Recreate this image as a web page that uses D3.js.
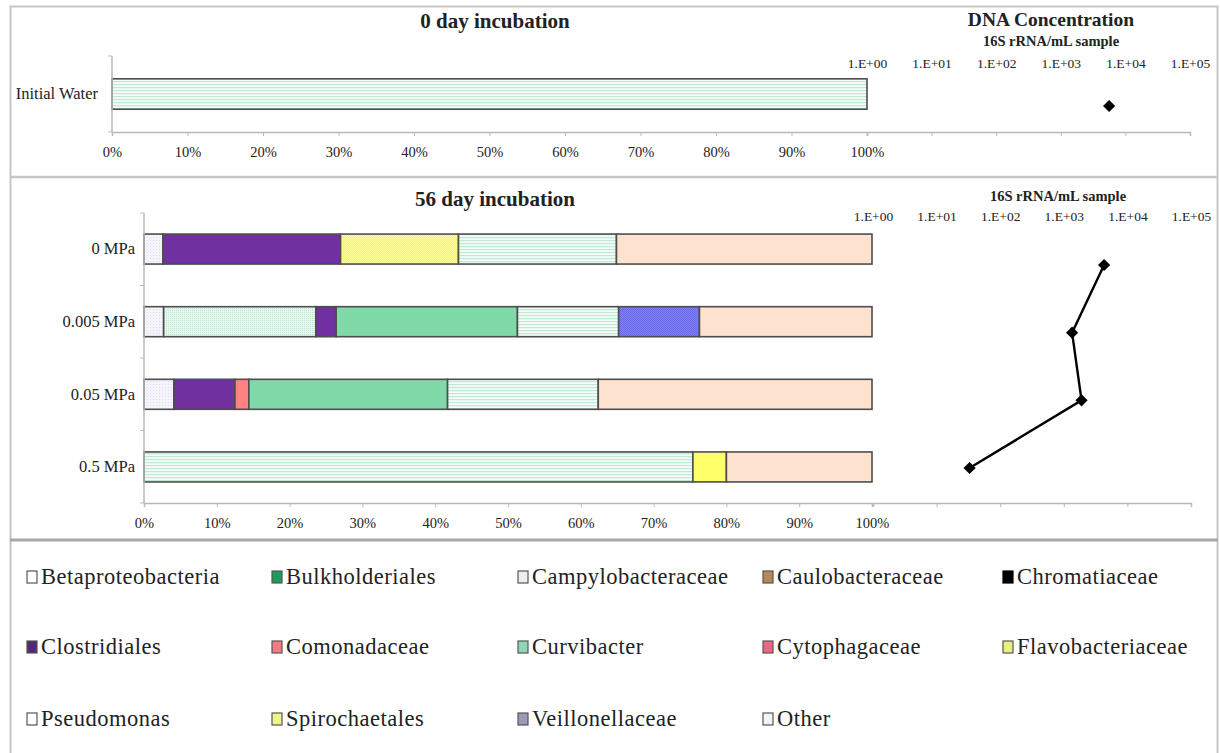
<!DOCTYPE html>
<html><head><meta charset="utf-8">
<script src="https://cdn.jsdelivr.net/npm/d3@7"></script>
<style>
body{margin:0;background:#fff}
text{font-family:"Liberation Serif","Times New Roman",serif;fill:#222}
</style>
</head><body>
<svg id="c" width="1220" height="753"></svg>
<script>
// ---------- DATA ----------
const taxa = ["Betaproteobacteria","Bulkholderiales","Campylobacteraceae","Caulobacteraceae","Chromatiaceae",
  "Clostridiales","Comonadaceae","Curvibacter","Cytophagaceae","Flavobacteriaceae",
  "Pseudomonas","Spirochaetales","Veillonellaceae","Other"];
const day0Samples = ["Initial Water"];
const day0Values = [
  [0,0,0,0,0,0,0,0,0,0,100,0,0,0]
];
const day56Samples = ["0 MPa","0.005 MPa","0.05 MPa","0.5 MPa"];
const day56Values = [
  [2.6,0,0,0,0,24.4,0,0,0,16.2,21.7,0,0,35.1],
  [2.7,0,20.9,0,0,2.8,0,24.9,0,0,13.9,0,11.1,23.7],
  [4.1,0,0,0,0,8.4,1.9,27.3,0,0,20.7,0,0,37.6],
  [0,0,0,0,0,0,0,0,0,0,75.4,4.6,0,20.0]
];
const day0Dna = [5600];
const day56Dna = [4300, 1350, 1900, 33];
const percentTicks = [0,10,20,30,40,50,60,70,80,90,100];
const logTicks = [1,10,100,1000,10000,100000];
const logTickLabels = ["1.E+00","1.E+01","1.E+02","1.E+03","1.E+04","1.E+05"];

// ---------- STYLES ----------
const fills = {
  "Betaproteobacteria":"url(#pBeta)",
  "Bulkholderiales":"#1e9a5c",
  "Campylobacteraceae":"url(#pCampy)",
  "Caulobacteraceae":"#b8875a",
  "Chromatiaceae":"#000000",
  "Clostridiales":"#7030a0",
  "Comonadaceae":"#ff8282",
  "Curvibacter":"#80d9a9",
  "Cytophagaceae":"#f06485",
  "Flavobacteriaceae":"url(#pFlavo)",
  "Pseudomonas":"url(#pPseudo)",
  "Spirochaetales":"#ffff6a",
  "Veillonellaceae":"url(#pVeil)",
  "Other":"#fde3cf"
};
const legendFills = Object.assign({}, fills, {
  "Betaproteobacteria":"#ffffff","Campylobacteraceae":"#eeeeee","Pseudomonas":"#ffffff",
  "Other":"#f4f4f4","Clostridiales":"#4e2a74","Flavobacteriaceae":"#e8f27a","Spirochaetales":"#eef58a",
  "Curvibacter":"#8fd8b4","Comonadaceae":"#f27c84","Veillonellaceae":"#9a9ab8"
});

const svg = d3.select("#c");
const defs = svg.append("defs");
function pat(id, bg, draw, w, h){
  const p = defs.append("pattern").attr("id",id).attr("patternUnits","userSpaceOnUse")
    .attr("width",w).attr("height",h);
  p.append("rect").attr("width",w).attr("height",h).attr("fill",bg);
  draw(p);
}
pat("pBeta","#f5f4fb",p=>{p.append("rect").attr("x",0).attr("y",0).attr("width",1).attr("height",1).attr("fill","#dddbef");},3,3);
pat("pCampy","#e5f7ee",p=>{p.append("rect").attr("x",0).attr("y",0).attr("width",1).attr("height",1).attr("fill","#bce7d1");},2,2);
pat("pFlavo","#ffff2a",p=>{p.append("rect").attr("x",0).attr("y",0).attr("width",1).attr("height",1).attr("fill","#ffff9a");
  p.append("rect").attr("x",1).attr("y",1).attr("width",1).attr("height",1).attr("fill","#ffff9a");},2,2);
pat("pPseudo","#f6fcf9",p=>{p.append("rect").attr("x",0).attr("y",0).attr("width",4).attr("height",1.2).attr("fill","#bfe9d3");},4,3);
pat("pVeil","#7f7ffc",p=>{p.append("rect").attr("x",0).attr("y",0).attr("width",1).attr("height",1).attr("fill","#6a6ae6");
  p.append("rect").attr("x",1).attr("y",1).attr("width",1).attr("height",1).attr("fill","#6a6ae6");},2,2);

svg.append("rect").attr("width",1220).attr("height",753).attr("fill","#fff");

// panel frames
const frame = svg.append("g").attr("fill","none");
frame.append("rect").attr("x",10.5).attr("y",6.5).attr("width",1207).attr("height",760)
  .attr("stroke","#c6c6c6").attr("stroke-width",2);
frame.append("line").attr("x1",10).attr("x2",1218).attr("y1",177).attr("y2",177)
  .attr("stroke","#c6c6c6").attr("stroke-width",2.5);
frame.append("line").attr("x1",10).attr("x2",1218).attr("y1",540).attr("y2",540)
  .attr("stroke","#a8a8a8").attr("stroke-width",3);

const axisGrey = "#b9b9b9";

function stackRows(values){
  return values.map(row=>{
    let acc=0;
    return row.map((v,i)=>{const s={key:taxa[i],x0:acc,x1:acc+v,v}; acc+=v; return s;}).filter(d=>d.v>0);
  });
}

function panel(cfg){
  const g = svg.append("g");
  const x = d3.scaleLinear().domain([0,100]).range([cfg.x0,cfg.x1]);
  const y = d3.scaleBand().domain(cfg.samples).range([cfg.top,cfg.bottom])
    .paddingInner(cfg.pi).paddingOuter(cfg.po);
  const lx = d3.scaleLog().domain([1,100000]).range([cfg.lx0,cfg.lx1]);
  const ly = d3.scalePoint().domain(cfg.samples).range(cfg.lyRange);

  // title
  g.append("text").attr("x",cfg.titleX).attr("y",cfg.titleY).attr("text-anchor","middle")
    .attr("font-size",21).attr("font-weight","bold").text(cfg.title);

  // bars
  const rows = stackRows(cfg.values);
  rows.forEach((segs,ri)=>{
    g.append("g").selectAll("rect").data(segs).join("rect")
      .attr("x",d=>x(d.x0)).attr("y",y(cfg.samples[ri]))
      .attr("width",d=>x(d.x1)-x(d.x0)).attr("height",y.bandwidth())
      .attr("fill",d=>fills[d.key]).attr("stroke","#4d4d4d").attr("stroke-width",1.6);
  });

  // percent axis
  const xa = g.append("g").attr("transform",`translate(0,${cfg.bottom})`)
    .call(d3.axisBottom(x).tickValues(percentTicks).tickFormat(d=>d+"%").tickSize(4).tickPadding(11));
  xa.select(".domain").attr("stroke",axisGrey).attr("stroke-width",1.5);
  xa.selectAll(".tick line").attr("stroke",axisGrey);
  xa.selectAll("text").attr("font-size",14.5).attr("font-family","Liberation Serif").attr("fill","#222");

  // category axis
  const ya = g.append("g").attr("transform",`translate(${cfg.x0},0)`)
    .call(d3.axisLeft(y).tickSize(0).tickPadding(cfg.catPad));
  ya.select(".domain").attr("stroke",axisGrey).attr("stroke-width",1.5)
    .attr("d",`M0,${cfg.top}V${cfg.bottom}`);
  ya.selectAll("text").attr("font-size",16.5).attr("font-family","Liberation Serif").attr("fill","#222");
  const bounds = d3.range(cfg.samples.length+1).map(i=>cfg.top + i*(cfg.bottom-cfg.top)/cfg.samples.length);
  ya.append("g").selectAll("line").data(bounds).join("line")
    .attr("x1",-4).attr("x2",0).attr("y1",d=>d).attr("y2",d=>d).attr("stroke",axisGrey);

  // log axis (bottom ticks)
  const la = g.append("g").attr("transform",`translate(0,${cfg.bottom})`)
    .call(d3.axisBottom(lx).tickValues(logTicks).tickFormat("").tickSize(4));
  la.select(".domain").attr("stroke",axisGrey).attr("stroke-width",1.5);
  la.selectAll(".tick line").attr("stroke",axisGrey);

  // log axis (top labels)
  const lt = g.append("g").attr("transform",`translate(0,${cfg.logLabelY})`)
    .call(d3.axisTop(lx).tickValues(logTicks).tickFormat((d,i)=>logTickLabels[i]).tickSize(0).tickPadding(0));
  lt.select(".domain").remove();
  lt.selectAll("text").attr("font-size",13.5).attr("font-family","Liberation Serif").attr("fill","#222");

  // subtitle
  if(cfg.bigTitle){
    g.append("text").attr("x",cfg.subX).attr("y",cfg.bigTitleY).attr("text-anchor","middle")
      .attr("font-size",19.5).attr("font-weight","bold").text(cfg.bigTitle);
  }
  g.append("text").attr("x",cfg.subX).attr("y",cfg.subY).attr("text-anchor","middle")
    .attr("font-size",14.5).attr("font-weight","bold").text("16S rRNA/mL sample");

  // DNA line + diamonds
  const pts = cfg.dna.map((v,i)=>[lx(v), ly(cfg.samples[i])]);
  if(pts.length>1){
    g.append("path").attr("d",d3.line()(pts)).attr("fill","none").attr("stroke","#000").attr("stroke-width",2.4);
  }
  g.append("g").selectAll("path").data(pts).join("path")
    .attr("transform",d=>`translate(${d[0]},${d[1]})`)
    .attr("d",d3.symbol(d3.symbolDiamond2,95)).attr("fill","#000");
}

panel({
  title:"0 day incubation", titleX:495, titleY:28,
  samples:day0Samples, values:day0Values, dna:day0Dna,
  x0:112, x1:867, top:56, bottom:132, pi:0.6, po:0.3, catPad:14,
  lx0:867, lx1:1190, lyRange:[106,106], logLabelY:68,
  subX:1051, bigTitle:"DNA Concentration", bigTitleY:26, subY:46
});
panel({
  title:"56 day incubation", titleX:495, titleY:206,
  samples:day56Samples, values:day56Values, dna:day56Dna,
  x0:144, x1:872, top:213, bottom:503, pi:0.587, po:0.29, catPad:9,
  lx0:873, lx1:1191, lyRange:[265,468], logLabelY:221,
  subX:1058, subY:201
});

// legend
const legCols = [27,272,518,763,1003];
const legRows = [577,647,719];
const lg = svg.append("g");
const items = lg.selectAll("g").data(taxa).join("g")
  .attr("transform",(d,i)=>`translate(${legCols[i%5]},${legRows[Math.floor(i/5)]})`);
items.append("rect").attr("x",0).attr("y",-6).attr("width",10).attr("height",12)
  .attr("fill",d=>legendFills[d]).attr("stroke",d=>d==="Chromatiaceae"?"#000":"#555").attr("stroke-width",1.2);
items.append("text").attr("x",14).attr("y",7).attr("font-size",22.5).attr("letter-spacing",0.5).text(d=>d);
</script>
</body></html>
